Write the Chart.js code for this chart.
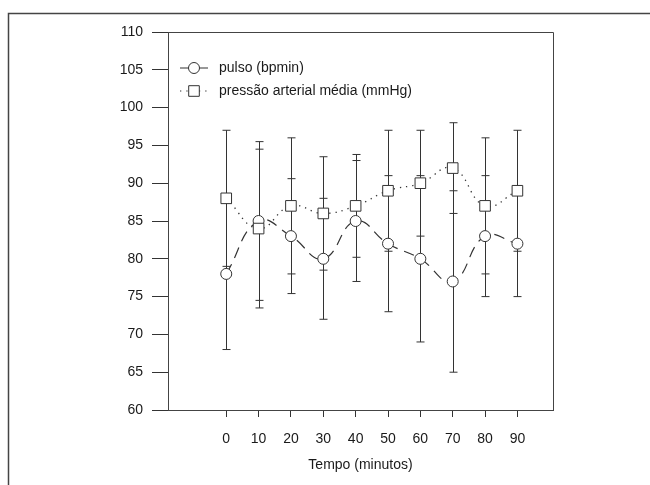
<!DOCTYPE html>
<html>
<head>
<meta charset="utf-8">
<script src="https://cdn.jsdelivr.net/npm/chart.js@4"></script>
<style>
  html, body { margin: 0; padding: 0; background: #fff; }
  #wrap { width: 650px; height: 485px; position: relative; }
</style>
</head>
<body>
<div id="wrap"><canvas id="chart" width="650" height="485"></canvas></div>
<script>
// Data
const tempo = [0, 10, 20, 30, 40, 50, 60, 70, 80, 90];
const pulso = [78, 85, 83, 80, 85, 82, 80, 77, 83, 82];
const pulsoErr = [10, 10.5, 7.6, 8, 8, 9, 11, 12, 8, 7];
const pressao = [88, 84, 87, 86, 87, 89, 90, 92, 87, 89];
const pressaoErr = [9, 10.5, 9, 7.5, 6.8, 8, 7, 6, 9, 8];
const yTicks = [60, 65, 70, 75, 80, 85, 90, 95, 100, 105, 110];

const ink = '#333';
const fontFamily = '"Liberation Sans", Arial, sans-serif';

Chart.defaults.font.family = fontFamily;
Chart.defaults.font.size = 14;
Chart.defaults.color = '#1a1a1a';

// Error bars, drawn under the markers
const errorBars = {
  id: 'errorBars',
  beforeDatasetsDraw(chart) {
    const { ctx, scales: { x, y } } = chart;
    const sets = [[pulso, pulsoErr], [pressao, pressaoErr]];
    ctx.save();
    ctx.strokeStyle = ink;
    ctx.lineWidth = 1;
    sets.forEach(([vals, errs]) => {
      tempo.forEach((t, i) => {
        const px = Math.round(x.getPixelForValue(t)) + 0.5;
        const top = y.getPixelForValue(vals[i] + errs[i]);
        const bot = y.getPixelForValue(vals[i] - errs[i]);
        ctx.beginPath();
        ctx.moveTo(px, top); ctx.lineTo(px, bot);
        ctx.moveTo(px - 4, top); ctx.lineTo(px + 4, top);
        ctx.moveTo(px - 4, bot); ctx.lineTo(px + 4, bot);
        ctx.stroke();
      });
    });
    ctx.restore();
  }
};

// Outer frame and top/right sides of the plot box
const frame = {
  id: 'frame',
  beforeDraw(chart) {
    const { ctx, chartArea: a } = chart;
    ctx.save();
    ctx.strokeStyle = '#444';
    ctx.lineWidth = 1.5;
    ctx.beginPath();
    ctx.moveTo(650, 13.5); ctx.lineTo(8.5, 13.5); ctx.lineTo(8.5, 485);
    ctx.stroke();
    ctx.lineWidth = 1;
    ctx.beginPath();
    ctx.moveTo(a.left, a.top + 0.5); ctx.lineTo(a.right + 0.5, a.top + 0.5);
    ctx.lineTo(a.right + 0.5, a.bottom);
    ctx.stroke();
    ctx.restore();
  }
};

// Legend inside the plot, top left
const innerLegend = {
  id: 'innerLegend',
  afterDraw(chart) {
    const { ctx, chartArea: a } = chart;
    ctx.save();
    chart.data.datasets.forEach((ds, i) => {
      const y = a.top + 36 + i * 23;
      const x0 = a.left + 12;
      ctx.strokeStyle = ink;
      ctx.lineWidth = 1.2;
      ctx.setLineDash(ds.borderDash);
      ctx.beginPath();
      ctx.moveTo(x0, y); ctx.lineTo(x0 + 28, y);
      ctx.stroke();
      ctx.setLineDash([]);
      ctx.fillStyle = '#fff';
      ctx.lineWidth = 1;
      Chart.helpers.drawPoint(ctx, {
        pointStyle: ds.pointStyle, radius: ds.pointRadius, borderWidth: 1
      }, x0 + 14, y);
      ctx.fillStyle = '#1a1a1a';
      ctx.font = '14px ' + fontFamily;
      ctx.textBaseline = 'middle';
      ctx.fillText(ds.label, x0 + 39, y);
    });
    ctx.restore();
  }
};

new Chart(document.getElementById('chart'), {
  type: 'line',
  data: {
    datasets: [
      {
        label: 'pulso (bpmin)',
        data: tempo.map((t, i) => ({ x: t, y: pulso[i] })),
        borderColor: ink,
        borderWidth: 1.2,
        borderDash: [11, 7],
        tension: 0.45,
        pointStyle: 'circle',
        pointRadius: 5.5,
        pointBorderWidth: 1,
        pointBackgroundColor: '#fff',
        pointBorderColor: ink,
        order: 2
      },
      {
        label: 'pressão arterial média (mmHg)',
        data: tempo.map((t, i) => ({ x: t, y: pressao[i] })),
        borderColor: ink,
        borderWidth: 1.3,
        borderDash: [1.3, 5],
        tension: 0.45,
        pointStyle: 'rect',
        pointRadius: 7.5,
        pointBorderWidth: 1,
        pointBackgroundColor: '#fff',
        pointBorderColor: ink,
        order: 1
      }
    ]
  },
  options: {
    responsive: false,
    animation: false,
    layout: { padding: { left: 0, top: 32, right: 97, bottom: 0 } },
    plugins: {
      legend: { display: false },
      tooltip: { enabled: false }
    },
    scales: {
      x: {
        type: 'linear',
        min: -18,
        max: 101,
        afterBuildTicks: scale => { scale.ticks = tempo.map(v => ({ value: v })); },
        afterFit: scale => { scale.height = 75; },
        grid: { drawOnChartArea: false, tickLength: 7, color: ink },
        border: { color: '#444', width: 1 },
        ticks: { padding: 14, maxRotation: 0, callback: v => v },
        title: {
          display: true,
          text: 'Tempo (minutos)',
          font: { size: 14 },
          padding: { top: 0, bottom: 11 }
        }
      },
      y: {
        min: 60,
        max: 110,
        afterBuildTicks: scale => { scale.ticks = yTicks.map(v => ({ value: v })); },
        afterFit: scale => { scale.width = 168; },
        grid: { drawOnChartArea: false, tickLength: 16, color: ink },
        border: { color: '#444', width: 1 },
        ticks: { padding: 9 }
      }
    }
  },
  plugins: [frame, errorBars, innerLegend]
});
</script>
</body>
</html>
